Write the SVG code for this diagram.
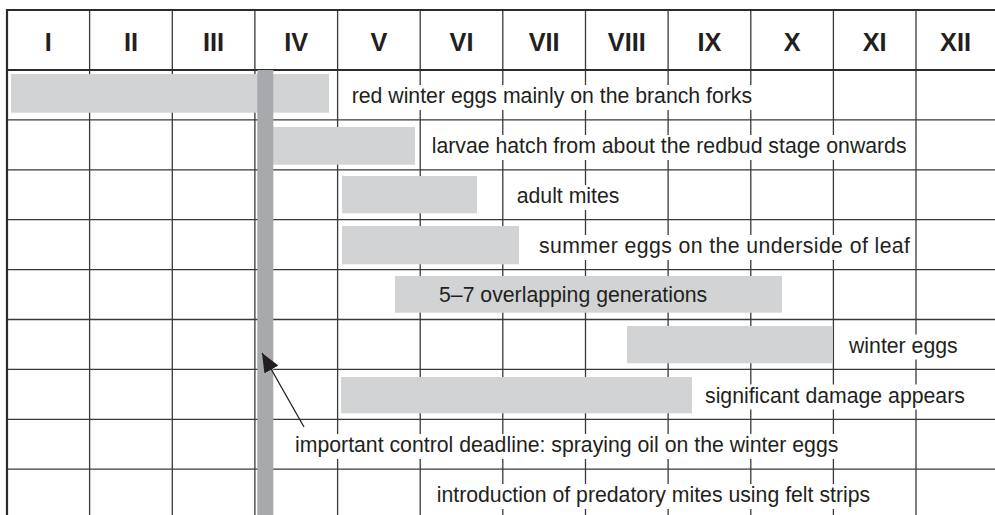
<svg xmlns="http://www.w3.org/2000/svg" width="995" height="515" viewBox="0 0 995 515">
<defs>
<style>
.g{stroke:#3a3a3a;stroke-width:1.3;fill:none}
.b{stroke:#2b2b2b;stroke-width:2.2;fill:none}
.hd{font-family:"Liberation Sans",Arial,sans-serif;font-weight:bold;font-size:25.3px;fill:#231f20;text-anchor:middle}
.t{font-family:"Liberation Sans",Arial,sans-serif;font-size:21.25px;fill:#231f20}
.bar{fill:#d1d3d4}
.bg{fill:#ffffff}
.ar{stroke:#231f20;stroke-width:1.3;fill:none}
</style>
<marker id="ah" markerUnits="userSpaceOnUse" markerWidth="20" markerHeight="16" refX="19" refY="8" orient="auto">
<path d="M0,0 L19,8 L0,16 z" fill="#231f20"/>
</marker>
</defs>
<rect width="995" height="515" fill="#ffffff"/>
<g id="grid">
<path class="g" d="M89.6,10V515M172.3,10V515M254.9,10V515M337.6,10V515M420.2,10V515M502.8,10V515M585.5,10V515M668.1,10V515M750.8,10V515M833.4,10V515M916,10V515"/>
<path class="g" d="M7,119.9H995M7,169.8H995M7,219.7H995M7,269.6H995M7,319.5H995M7,369.4H995M7,419.3H995M7,469.2H995"/>
<path class="b" d="M7,10H995M7,70H995M7,9V515"/>
</g>
<g id="header">
<text class="hd" x="48.3" y="51">I</text>
<text class="hd" x="131" y="51">II</text>
<text class="hd" x="213.6" y="51">III</text>
<text class="hd" x="296.2" y="51">IV</text>
<text class="hd" x="378.9" y="51">V</text>
<text class="hd" x="461.5" y="51">VI</text>
<text class="hd" x="544.1" y="51">VII</text>
<text class="hd" x="626.8" y="51">VIII</text>
<text class="hd" x="709.4" y="51">IX</text>
<text class="hd" x="792.1" y="51">X</text>
<text class="hd" x="874.7" y="51">XI</text>
<text class="hd" x="955.5" y="51">XII</text>
</g>
<g id="backgrounds">
<rect class="bg" x="349" y="85" width="406" height="25"/>
<rect class="bg" x="429" y="135" width="481" height="25"/>
<rect class="bg" x="514" y="185" width="109" height="25"/>
<rect class="bg" x="536" y="235" width="378" height="25"/>
<rect class="bg" x="846" y="334.5" width="115" height="25"/>
<rect class="bg" x="702" y="384.5" width="266" height="25"/>
<rect class="bg" x="292" y="434" width="549" height="25"/>
<rect class="bg" x="434" y="484" width="439" height="25"/>
</g>
<g id="bars">
<rect class="bar" x="11" y="74" width="318" height="38.7"/>
<rect class="bar" x="273" y="127" width="142" height="37.7"/>
<rect class="bar" x="342" y="176" width="135" height="37.3"/>
<rect class="bar" x="342" y="226" width="177" height="38.3"/>
<rect class="bar" x="395" y="276" width="387" height="36.7"/>
<rect class="bar" x="627" y="326" width="205" height="37.3"/>
<rect class="bar" x="341" y="377" width="351" height="36.3"/>
</g>
<g id="deadline">
<rect x="257.3" y="70" width="16" height="445" fill="#a7a9ac"/>
</g>
<g id="row1"><text class="t" x="351.7" y="103">red winter eggs mainly on the branch forks</text></g>
<g id="row2"><text class="t" x="431.7" y="153">larvae hatch from about the redbud stage onwards</text></g>
<g id="row3"><text class="t" x="516.7" y="203">adult mites</text></g>
<g id="row4"><text class="t" x="539" y="253" textLength="371" lengthAdjust="spacing">summer eggs on the underside of leaf</text></g>
<g id="row5"><text class="t" x="439" y="302">5–7 overlapping generations</text></g>
<g id="row6"><text class="t" x="849" y="352.5">winter eggs</text></g>
<g id="row7"><text class="t" x="705" y="402.5">significant damage appears</text></g>
<g id="row8"><text class="t" x="295" y="452">important control deadline: spraying oil on the winter eggs</text></g>
<g id="row9"><text class="t" x="436.7" y="502">introduction of predatory mites using felt strips</text></g>
<g id="connectors">
<line class="ar" x1="304" y1="427" x2="262" y2="353" marker-end="url(#ah)"/>
</g>
</svg>
